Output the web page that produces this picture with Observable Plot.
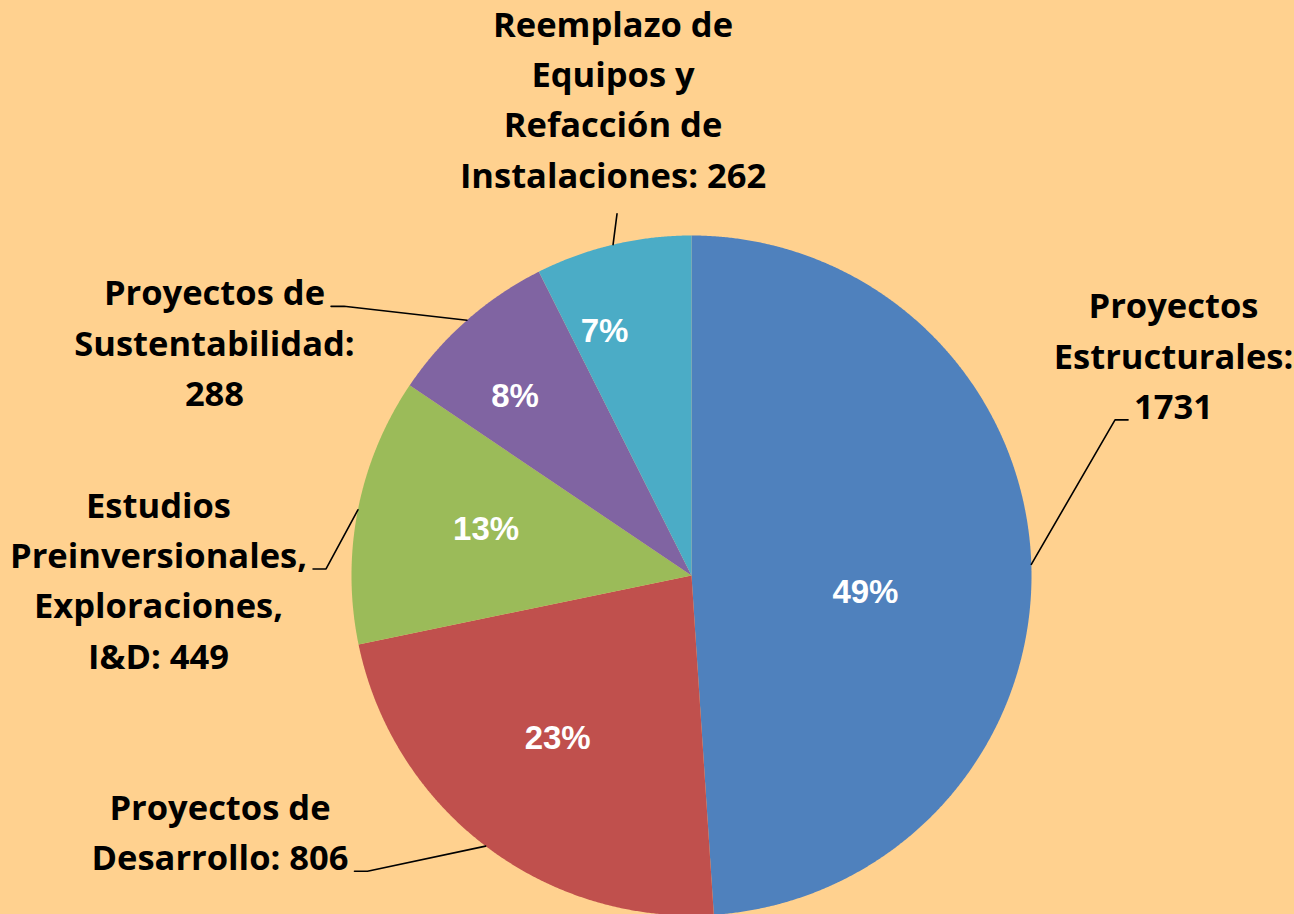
<!DOCTYPE html>
<html><head><meta charset="utf-8">
<script src="https://cdn.jsdelivr.net/npm/d3@7"></script>
<script src="https://cdn.jsdelivr.net/npm/@observablehq/plot@0.6"></script>
<style>html,body{margin:0;padding:0;background:#FFD18F;overflow:hidden}</style>
</head><body><div id="chart"></div>
<script>
// ---- data ----
const categories = [
  "Proyectos Estructurales",
  "Proyectos de Desarrollo",
  "Estudios Preinversionales, Exploraciones, I&D",
  "Proyectos de Sustentabilidad",
  "Reemplazo de Equipos y Refacción de Instalaciones"
];
const values = [1731, 806, 449, 288, 262];
const colors = ["#4F81BD", "#C0504D", "#9BBB59", "#8064A2", "#4BACC6"];
const labelTemplates = [
  "Proyectos\nEstructurales:\n{v}",
  "Proyectos de\nDesarrollo: {v}",
  "Estudios\nPreinversionales,\nExploraciones,\nI&D: {v}",
  "Proyectos de\nSustentabilidad:\n{v}",
  "Reemplazo de\nEquipos y\nRefacción de\nInstalaciones: {v}"
];

// ---- layout ----
const W = 1294, H = 914, CX = 691, CY = 575, R = 340;
// label placement in polar form: [angle in degrees clockwise from 12 o'clock, distance in radii]
const pctPlacement = [[95.6, 0.514], [219.4, 0.62], [282.6, 0.619], [315.4, 0.739], [340.4, 0.763]];
const labelPlacement = [[65.17, 1.562], [241.74, 1.5745], [269.84, 1.5676], [296.32, 1.5653], [350.7, 1.4284]];
const leaderAttach = [2, 1, 1, 0, "bottom"];
const LABEL_FS = 34.5, LABEL_LH = 50.3, LABEL_FONT = "Open Sans";
const PCT_FS = 33;

const rad = d => d * Math.PI / 180;
const polar = (a, r) => ({x: r * Math.sin(a), y: r * Math.cos(a)});

const total = d3.sum(values);
const arcs = d3.pie().sort(null).value(d => d)(values);

// slice outlines
const slicePts = [];
arcs.forEach((a, i) => {
  slicePts.push({cat: categories[i], x: 0, y: 0});
  const n = Math.max(2, Math.ceil((a.endAngle - a.startAngle) / (Math.PI / 720)));
  for (let k = 0; k <= n; k++) {
    const t = a.startAngle + (a.endAngle - a.startAngle) * k / n;
    slicePts.push({cat: categories[i], ...polar(t, 1)});
  }
});

// percent labels
const pctFmt = d3.format(".0%");
const pctData = arcs.map((a, i) => {
  const [ang, d] = pctPlacement[i];
  return {...polar(rad(ang), d), text: pctFmt(values[i] / total)};
});

// outer labels
const labelData = arcs.map((a, i) => {
  const [ang, d] = labelPlacement[i];
  return {...polar(rad(ang), d), cat: categories[i], text: labelTemplates[i].replace("{v}", values[i])};
});

// leader lines
const ctx = document.createElement("canvas").getContext("2d");
ctx.font = `bold ${LABEL_FS}px "${LABEL_FONT}"`;
const leaderPts = [];
arcs.forEach((a, i) => {
  const lab = labelData[i];
  const lines = lab.text.split("\n");
  const n = lines.length;
  const baseOff = j => (0.82 - 0.5 * n + j) * LABEL_LH; // px below label anchor
  const mid = (a.startAngle + a.endAngle) / 2;
  const start = polar(mid, 1);
  const att = leaderAttach[i];
  let pts;
  if (att === "bottom") {
    pts = [start, {x: lab.x + 4 / R, y: lab.y - (baseOff(n - 1) + 26) / R}];
  } else {
    const w = ctx.measureText(lines[att]).width;
    const side = lab.x < 0 ? 1 : -1;
    const ey = lab.y - (baseOff(att) + 1) / R;
    const ex = lab.x + side * (w / 2 + 6) / R;
    pts = [start, {x: ex + side * 13 / R, y: ey}, {x: ex, y: ey}];
  }
  pts.forEach(p => leaderPts.push({cat: categories[i], ...p}));
});

const chart = Plot.plot({
  width: W, height: H, margin: 0,
  style: {background: "#FFD18F", overflow: "visible"},
  x: {domain: [-CX / R, (W - CX) / R], range: [0, W], axis: null},
  y: {domain: [-(H - CY) / R, CY / R], range: [H, 0], axis: null},
  color: {domain: categories, range: colors},
  marks: [
    Plot.line(slicePts, {x: "x", y: "y", z: "cat", fill: "cat", stroke: "none", curve: "linear-closed"}),
    Plot.line(leaderPts, {x: "x", y: "y", z: "cat", stroke: "black", strokeWidth: 1.6}),
    Plot.text(pctData, {x: "x", y: "y", text: "text", fill: "white", fontSize: PCT_FS, fontWeight: "bold", fontFamily: "Liberation Sans, Arial, sans-serif"}),
    Plot.text(labelData, {x: "x", y: "y", text: "text", fill: "black", fontSize: LABEL_FS, fontWeight: "bold", fontFamily: LABEL_FONT, lineHeight: LABEL_LH / LABEL_FS})
  ]
});
document.getElementById("chart").appendChild(chart);
</script>
</body></html>
